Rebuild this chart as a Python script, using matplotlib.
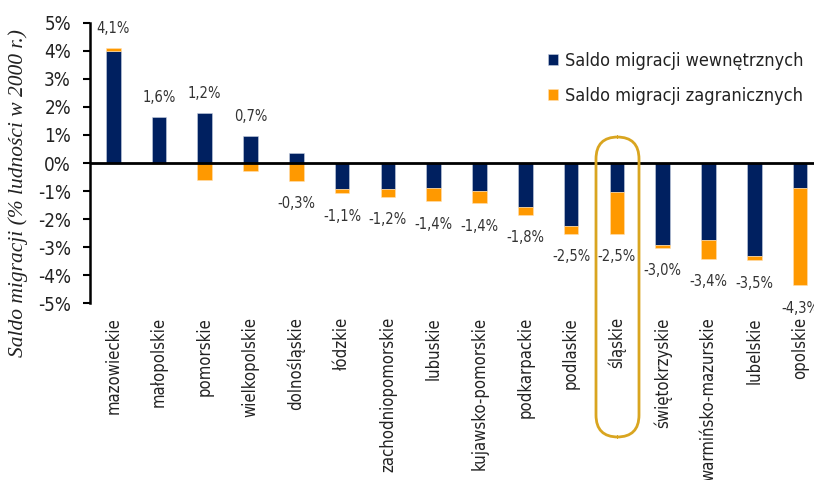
import numpy as np
import matplotlib.pyplot as plt
from matplotlib.patches import FancyBboxPatch

# Data
regions = ['mazowieckie', 'małopolskie', 'pomorskie', 'wielkopolskie', 'dolnośląskie',
           'łódzkie', 'zachodniopomorskie', 'lubuskie', 'kujawsko-pomorskie', 'podkarpackie',
           'podlaskie', 'śląskie', 'świętokrzyskie', 'warmińsko-mazurskie', 'lubelskie', 'opolskie']
internal = [4.0, 1.65, 1.8, 0.96, 0.37, -0.94, -0.92, -0.88, -1.01, -1.55,
            -2.25, -1.04, -2.92, -2.75, -3.31, -0.88]
foreign = [0.1, -0.05, -0.62, -0.28, -0.64, -0.14, -0.29, -0.48, -0.42, -0.3,
           -0.28, -1.49, -0.1, -0.67, -0.16, -3.47]
totals = [4.1, 1.6, 1.2, 0.7, -0.3, -1.1, -1.2, -1.4, -1.4, -1.8,
          -2.5, -2.5, -3.0, -3.4, -3.5, -4.3]

navy = '#002060'
orange = '#FF9900'
gold = '#D9A520'
plt.rcParams['font.family'] = ['DejaVu Sans']
plt.rcParams['font.stretch'] = 'condensed'

fig = plt.figure(figsize=(8.14, 4.8), dpi=100)
ax = fig.add_axes([0.111, 0.368, 0.8999, 0.5846])

x = np.arange(len(regions))
internal = np.array(internal)
foreign = np.array(foreign)
w = 0.32

# stack each series on the same-sign side
fb = np.where(np.sign(foreign) == np.sign(internal), internal, 0)
ax.bar(x, internal, w, color=navy, edgecolor='#c8d0e0', linewidth=0.4,
       label='Saldo migracji wewnętrznych', zorder=2)
ax.bar(x, foreign, w, bottom=fb, color=orange, edgecolor='#ffe0b0', linewidth=0.4,
       label='Saldo migracji zagranicznych', zorder=2)

pos_top = np.maximum(internal, 0) + np.maximum(foreign, 0)
neg_bot = np.minimum(internal, 0) + np.minimum(foreign, 0)
for i, t in enumerate(totals):
    lbl = f'{t:.1f}%'.replace('.', ',')
    if t >= 0:
        ax.annotate(lbl, (x[i], pos_top[i]), xytext=(0, 14), textcoords='offset points',
                    ha='center', va='center', fontsize=10.5, color='#333333')
    else:
        ax.annotate(lbl, (x[i], neg_bot[i]), xytext=(0, -16.5), textcoords='offset points',
                    ha='center', va='center', fontsize=10.5, color='#333333', annotation_clip=False)

ax.axhline(0, color='black', linewidth=2, zorder=3)
ax.set_xlim(-0.5, len(regions) - 0.5)
ax.set_ylim(-5, 5)
ax.set_yticks(np.arange(-5, 6, 1))
ax.set_yticklabels([f'{v}%' for v in range(-5, 6)], fontsize=13.5, color='#222222')
ax.set_xticks(x)
ax.set_xticklabels(regions, rotation=90, fontsize=12, color='#222222', va='top')
ax.tick_params(axis='x', length=0, pad=10)
ax.tick_params(axis='y', direction='out', length=5, width=1.5, pad=9)
for s in ['top', 'right', 'bottom']:
    ax.spines[s].set_visible(False)
ax.spines['left'].set_linewidth(1.8)

leg = ax.legend(loc='upper left', bbox_to_anchor=(0.603, 0.955), frameon=False,
                fontsize=13, handlelength=0.55, handleheight=0.55, handletextpad=0.35,
                labelspacing=0.95)
for t in leg.get_texts():
    t.set_color('#222222')

# highlight box around śląskie (figure pixels)
box = FancyBboxPatch((596 / 814, (480 - 437) / 480), 43 / 814, 300 / 480,
                     boxstyle='round,pad=0,rounding_size=0.027',
                     transform=fig.transFigure, fill=False, edgecolor=gold,
                     linewidth=2, mutation_aspect=814 / 480, zorder=5)
fig.patches.append(box)

fig.text(18 / 814, 1 - 193 / 480, 'Saldo migracji (% ludności w 2000 r.)', rotation=90,
         ha='center', va='center', fontsize=15.5, style='italic', stretch='normal',
         family=['Liberation Serif', 'DejaVu Serif'], color='#222222')

fig.savefig('out.png', dpi=100)
